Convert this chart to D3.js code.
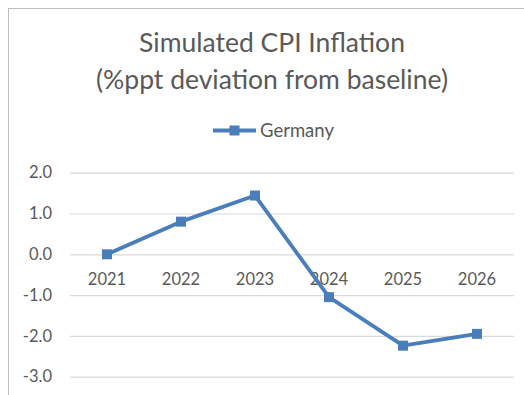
<!DOCTYPE html>
<html>
<head>
<meta charset="utf-8">
<script src="https://cdn.jsdelivr.net/npm/d3@7"></script>
<style>
  html, body { margin: 0; padding: 0; background: #ffffff; }
  svg { display: block; }
  text { font-family: Lato, "Open Sans", sans-serif; }
</style>
</head>
<body>
<svg id="chart" width="524" height="395"></svg>
<script>
// Simulated CPI inflation, %ppt deviation from baseline
const years = ["2021", "2022", "2023", "2024", "2025", "2026"];
const germany = [0.0, 0.8, 1.44, -1.05, -2.24, -1.95];
const yTicks = [2, 1, 0, -1, -2, -3];
const titleLines = ["Simulated CPI Inflation", "(%ppt deviation from baseline)"];
const seriesName = "Germany";

const blue = "#4a7ebb";
const textGray = "#595959";
const fontStack = "Lato, 'Open Sans', sans-serif";

const svg = d3.select("#chart");

// chart frame
svg.append("rect")
  .attr("x", 8.5).attr("y", 8.5)
  .attr("width", 540).attr("height", 400)
  .attr("fill", "#fff")
  .attr("stroke", "#bfbfbf").attr("stroke-width", 1);

// title
const title = svg.append("text")
  .attr("text-anchor", "middle")
  .attr("fill", textGray)
  .attr("font-size", 26.5);
title.selectAll("tspan").data(titleLines).join("tspan")
  .attr("x", 272)
  .attr("y", (d, i) => 52 + i * 36.5)
  .text(d => d);

// plot area
const plot = { left: 70, right: 514, top: 172.7, bottom: 376.7 };

const x = d3.scaleBand().domain(years).range([plot.left, plot.right]);
const y = d3.scaleLinear().domain([-3, 2]).range([plot.bottom, plot.top]);

// gridlines and y axis labels
const yAxis = d3.axisLeft(y)
  .tickValues(yTicks)
  .tickSize(-(plot.right - plot.left))
  .tickPadding(18)
  .tickFormat(d => d3.format(".1f")(d).replace("\u2212", "-"));

const gy = svg.append("g")
  .attr("transform", `translate(${plot.left},0)`)
  .call(yAxis);
gy.select(".domain").remove();
gy.selectAll(".tick line").attr("stroke", "#d9d9d9").attr("stroke-width", 1.2);
gy.selectAll(".tick text")
  .attr("fill", textGray)
  .attr("font-size", 16.5)
  .attr("font-family", fontStack);

// category labels sitting under the zero line
const gx = svg.append("g")
  .attr("transform", `translate(0,${y(0)})`)
  .call(d3.axisBottom(x).tickSize(0).tickPadding(18.5));
gx.select(".domain").remove();
gx.selectAll(".tick text")
  .attr("fill", textGray)
  .attr("font-size", 16.5)
  .attr("font-family", fontStack);

// series line
const pts = years.map((yr, i) => ({ yr, v: germany[i] }));
const line = d3.line()
  .x(d => x(d.yr) + x.bandwidth() / 2)
  .y(d => y(d.v));

svg.append("path")
  .datum(pts)
  .attr("d", line)
  .attr("fill", "none")
  .attr("stroke", blue)
  .attr("stroke-width", 3.8)
  .attr("stroke-linejoin", "round");

const ms = 10;
svg.selectAll("rect.marker").data(pts).join("rect")
  .attr("class", "marker")
  .attr("x", d => x(d.yr) + x.bandwidth() / 2 - ms / 2)
  .attr("y", d => y(d.v) - ms / 2)
  .attr("width", ms).attr("height", ms)
  .attr("fill", blue);

// legend
const leg = svg.append("g").attr("transform", "translate(213,130.5)");
leg.append("line")
  .attr("x1", 0).attr("x2", 43).attr("y1", 0).attr("y2", 0)
  .attr("stroke", blue).attr("stroke-width", 3.8);
leg.append("rect")
  .attr("x", 21.5 - ms / 2).attr("y", -ms / 2)
  .attr("width", ms).attr("height", ms)
  .attr("fill", blue);
leg.append("text")
  .attr("x", 47).attr("y", 6.5)
  .attr("fill", textGray)
  .attr("font-size", 18.5)
  .text(seriesName);
</script>
</body>
</html>
